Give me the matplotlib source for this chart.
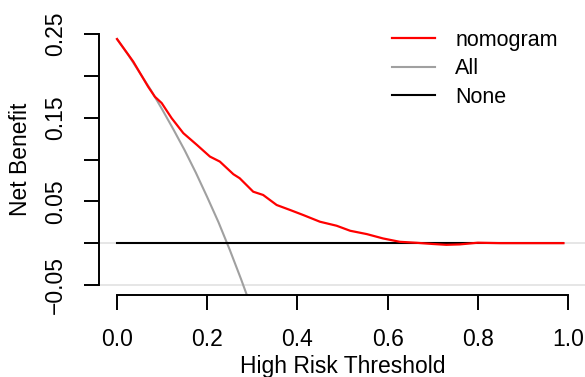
import matplotlib
matplotlib.use("Agg")
import matplotlib.pyplot as plt

# decision curve values
nomo_pt = [0.00, 0.036, 0.069, 0.084, 0.099, 0.121, 0.147, 0.177, 0.206, 0.228,
           0.258, 0.272, 0.302, 0.324, 0.354, 0.384, 0.413, 0.45, 0.487, 0.517,
           0.554, 0.59, 0.627, 0.665, 0.70, 0.73, 0.76, 0.80, 0.85, 0.90, 0.95, 0.99]
nomo_nb = [0.244, 0.217, 0.187, 0.175, 0.1675, 0.1495, 0.1315, 0.1175, 0.1035, 0.0975,
           0.0824, 0.0776, 0.0615, 0.0576, 0.0456, 0.0396, 0.0336, 0.0256, 0.0208, 0.0148,
           0.0108, 0.0056, 0.0016, 0.0004, -0.001, -0.002, -0.0015, 0.0005, 0.0, 0.0, 0.0, 0.0]

all_pt = [0.0, 0.025, 0.05, 0.075, 0.10, 0.125, 0.15, 0.175, 0.20, 0.225, 0.25, 0.275, 0.30]
all_nb = [0.244, 0.225, 0.204, 0.183, 0.160, 0.136, 0.111, 0.084, 0.055, 0.025, -0.008, -0.043, -0.080]

none_pt = [0.0, 0.99]
none_nb = [0.0, 0.0]

xticks = [0.0, 0.2, 0.4, 0.6, 0.8, 1.0]
xlabels = ["0.0", "0.2", "0.4", "0.6", "0.8", "1.0"]
yticks = [-0.05, 0.0, 0.05, 0.10, 0.15, 0.20, 0.25]
ylabels = ["\u22120.05", "", "0.05", "", "0.15", "", "0.25"]

plt.rcParams['font.family'] = ['Liberation Sans', 'DejaVu Sans']

fig = plt.figure(figsize=(5.85, 3.77), dpi=100)
ax = fig.add_axes([99/585, 1 - 295/377, 487/585, 271/377])

# light reference lines across the plot region
ax.axhline(0, color='#e2e2e2', lw=1.2, zorder=1)
ax.axhline(-0.05, color='#e2e2e2', lw=1.2, zorder=1)

l_all, = ax.plot(all_pt, all_nb, color='#a0a0a0', lw=1.5, zorder=2)
l_none, = ax.plot(none_pt, none_nb, color='black', lw=1.5, zorder=3)
l_nomo, = ax.plot(nomo_pt, nomo_nb, color='red', lw=1.6, zorder=4)

ax.set_xlim(-0.04, 1.04)
ax.set_ylim(-0.062, 0.262)

for s in ['top', 'right']:
  ax.spines[s].set_visible(False)
ax.spines['left'].set_bounds(-0.05, 0.25)
ax.spines['bottom'].set_bounds(0, 1)
for s in ['left', 'bottom']:
  ax.spines[s].set_linewidth(1.4)

ax.set_xticks(xticks)
ax.set_xticklabels(xlabels)
ax.set_yticks(yticks)
ax.set_yticklabels(ylabels, rotation=90, va='center')
ax.tick_params(axis='both', length=10.8, width=1.4, labelsize=16.5)
ax.tick_params(axis='x', pad=13)
ax.tick_params(axis='y', pad=12)

ax.set_xlabel('High Risk Threshold', fontsize=16.5, labelpad=2.5)
ax.set_ylabel('Net Benefit', fontsize=16.5, labelpad=9)

leg = ax.legend([l_nomo, l_all, l_none], ['nomogram', 'All', 'None'],
                loc='upper left', bbox_to_anchor=(392/585, 1 - 30/377),
                bbox_transform=fig.transFigure, frameon=False, fontsize=15.5,
                borderpad=0, handlelength=2.0, handletextpad=0.93,
                labelspacing=0.34, borderaxespad=0)

fig.savefig('out.png', dpi=100)
